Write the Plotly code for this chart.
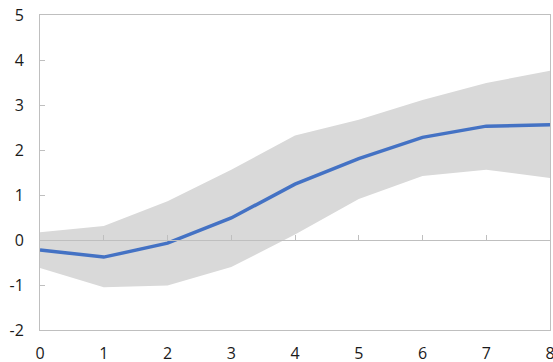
import plotly.graph_objects as go

x_vals = [0, 1, 2, 3, 4, 5, 6, 7, 8]
central = [-0.22, -0.38, -0.07, 0.49, 1.24, 1.81, 2.28, 2.53, 2.56]
upper = [0.17, 0.31, 0.86, 1.56, 2.32, 2.67, 3.11, 3.49, 3.76]
lower = [-0.62, -1.05, -1.01, -0.60, 0.12, 0.91, 1.42, 1.56, 1.38]
y_ticks = [-2, -1, 0, 1, 2, 3, 4, 5]
y_tick_labels = ["-2", "-1", "0", "1", "2", "3", "4", "5"]
x_tick_labels = ["0", "1", "2", "3", "4", "5", "6", "7", "8"]

fig = go.Figure()
fig.add_trace(go.Scatter(x=x_vals, y=upper, mode="lines", line=dict(width=0),
                         showlegend=False, hoverinfo="skip"))
fig.add_trace(go.Scatter(x=x_vals, y=lower, mode="lines", line=dict(width=0),
                         fill="tonexty", fillcolor="#d9d9d9",
                         showlegend=False, hoverinfo="skip"))
# zero-line axis carrier (invisible)
fig.add_trace(go.Scatter(x=x_vals, y=[0] * len(x_vals), mode="lines",
                         line=dict(width=0), xaxis="x2", showlegend=False,
                         hoverinfo="skip"))
fig.add_trace(go.Scatter(x=x_vals, y=central, mode="lines",
                         line=dict(color="#4472c4", width=3.5),
                         showlegend=False))

axis_color = "#bfbfbf"
font = dict(family="Open Sans, Noto Sans, sans-serif", size=16, color="#1a1a1a")

fig.update_layout(
    width=553, height=362,
    margin=dict(l=40, r=3, t=15, b=32, autoexpand=False),
    paper_bgcolor="white", plot_bgcolor="white",
    font=font,
    xaxis=dict(range=[0, 8], tickvals=x_vals, ticktext=x_tick_labels,
               showgrid=False, zeroline=False,
               showline=True, linecolor=axis_color, linewidth=1, mirror=True,
               ticks="", ticklabelstandoff=9, tickfont=font, automargin=False,
               ticklabeloverflow="allow"),
    xaxis2=dict(range=[0, 8], overlaying="x", anchor="free",
                position=2 / 7, side="bottom", tickvals=x_vals,
                showgrid=False, zeroline=False, showline=True,
                linecolor=axis_color, linewidth=1, ticks="inside",
                ticklen=5, tickcolor=axis_color, showticklabels=False,
                automargin=False),
    yaxis=dict(range=[-2, 5], tickvals=y_ticks, ticktext=y_tick_labels,
               showgrid=False, zeroline=False,
               showline=True, linecolor=axis_color, linewidth=1, mirror=True,
               ticks="inside", ticklen=5, tickcolor=axis_color,
               ticklabelstandoff=12, tickfont=font, automargin=False,
               ticklabeloverflow="allow"),
)

post = ("document.body.style.margin='0';"
        "document.body.style.padding='0';"
        "document.documentElement.style.overflow='hidden';"
        "document.body.style.overflow='hidden';")

fig.write_html("out.html", post_script=post,
               config={"displayModeBar": False})
